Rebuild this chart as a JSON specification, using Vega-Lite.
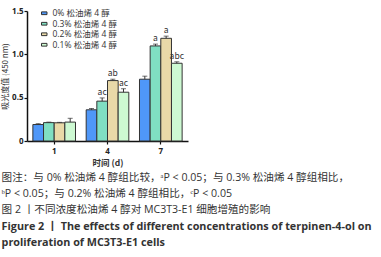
{
  "$schema": "https://vega.github.io/schema/vega-lite/v6.json",
  "width": 161,
  "height": 130,
  "padding": {"left": 1, "top": 7, "right": 5, "bottom": 4},
  "background": "white",
  "config": {
    "font": "Noto Sans CJK SC",
    "view": {"stroke": null},
    "axis": {"grid": false}
  },
  "title": {
    "text": [
      "图注：与 0% 松油烯 4 醇组比较，ᵃP < 0.05；与 0.3% 松油烯 4 醇组相比，",
      "ᵇP < 0.05；与 0.2% 松油烯 4 醇组相比，ᶜP < 0.05",
      "图 2 丨不同浓度松油烯 4 醇对 MC3T3-E1 细胞增殖的影响"
    ],
    "subtitle": [
      "Figure 2  丨  The effects of different concentrations of terpinen-4-ol on",
      "proliferation of MC3T3-E1 cells"
    ],
    "orient": "bottom",
    "anchor": "start",
    "frame": "bounds",
    "offset": 6,
    "font": "Open Sans, Noto Sans CJK SC",
    "fontSize": 10.6,
    "fontWeight": "normal",
    "color": "#333",
    "lineHeight": 16.3,
    "subtitleFont": "Open Sans, Noto Sans CJK SC",
    "subtitleFontSize": 10.8,
    "subtitleFontWeight": "bold",
    "subtitleColor": "#333",
    "subtitleLineHeight": 16.3,
    "subtitlePadding": 5
  },
  "data": {
    "values": [
      {"day": "1", "group": "0% 松油烯 4 醇", "value": 0.19, "hi": 0.20, "sig": ""},
      {"day": "1", "group": "0.3% 松油烯 4 醇", "value": 0.212, "hi": 0.218, "sig": ""},
      {"day": "1", "group": "0.2% 松油烯 4 醇", "value": 0.21, "hi": 0.215, "sig": ""},
      {"day": "1", "group": "0.1% 松油烯 4 醇", "value": 0.218, "hi": 0.262, "sig": ""},
      {"day": "4", "group": "0% 松油烯 4 醇", "value": 0.36, "hi": 0.375, "sig": ""},
      {"day": "4", "group": "0.3% 松油烯 4 醇", "value": 0.46, "hi": 0.497, "sig": "ac"},
      {"day": "4", "group": "0.2% 松油烯 4 醇", "value": 0.697, "hi": 0.713, "sig": "ab"},
      {"day": "4", "group": "0.1% 松油烯 4 醇", "value": 0.563, "hi": 0.603, "sig": "ac"},
      {"day": "7", "group": "0% 松油烯 4 醇", "value": 0.713, "hi": 0.748, "sig": ""},
      {"day": "7", "group": "0.3% 松油烯 4 醇", "value": 1.097, "hi": 1.118, "sig": "a"},
      {"day": "7", "group": "0.2% 松油烯 4 醇", "value": 1.185, "hi": 1.21, "sig": "a"},
      {"day": "7", "group": "0.1% 松油烯 4 醇", "value": 0.897, "hi": 0.914, "sig": "abc"}
    ]
  },
  "encoding": {
    "x": {
      "field": "day", "type": "nominal",
      "scale": {"paddingInner": 0.2, "paddingOuter": 0.11},
      "axis": {"title": "时间 (d)", "labelAngle": 0, "titleFontSize": 8.5, "titleFontWeight": "bold", "titleColor": "#333", "titlePadding": 3, "labelPadding": 3, "labelFont": "Open Sans", "labelFontWeight": "bold", "labelFontSize": 8, "labelColor": "#222", "domainColor": "#111", "domainWidth": 1.5, "tickColor": "#111", "tickWidth": 1.2, "tickSize": 3}
    },
    "xOffset": {"field": "group", "type": "nominal", "sort": ["0% 松油烯 4 醇", "0.3% 松油烯 4 醇", "0.2% 松油烯 4 醇", "0.1% 松油烯 4 醇"]}
  },
  "layer": [
    {
      "mark": {"type": "bar", "stroke": "#333", "strokeWidth": 1},
      "encoding": {
        "y": {
          "field": "value", "type": "quantitative",
          "scale": {"domain": [0, 1.5], "nice": false},
          "axis": {"title": "吸光度值 (450 nm)", "values": [0, 0.5, 1, 1.5], "format": ".1f", "labelExpr": "datum.value == 0 ? '0' : datum.label", "titleFontSize": 8, "titleFontWeight": "normal", "titleColor": "#333", "titlePadding": 2, "labelFont": "Open Sans", "labelFontWeight": "bold", "labelFontSize": 8, "labelColor": "#222", "labelOverlap": false, "labelBound": false, "labelFlush": false, "domainColor": "#111", "domainWidth": 1.5, "tickColor": "#111", "tickWidth": 1.2, "tickSize": 3, "labelPadding": 1}
        },
        "color": {
          "field": "group", "type": "nominal",
          "sort": ["0% 松油烯 4 醇", "0.3% 松油烯 4 醇", "0.2% 松油烯 4 醇", "0.1% 松油烯 4 醇"],
          "scale": {"range": ["#4f97f8", "#80dfc2", "#e9d9a8", "#cdf9d2"]},
          "legend": {
            "title": null, "orient": "none", "legendX": 13, "legendY": -2,
            "symbolType": "M-1,-0.5H1V0.5H-1Z", "symbolSize": 30, "symbolStrokeColor": "#333", "symbolStrokeWidth": 1,
            "labelFontSize": 8.5, "labelColor": "#333", "labelFont": "Open Sans, Noto Sans CJK SC", "rowPadding": 1.5, "labelOffset": 4
          }
        }
      }
    },
    {
      "mark": {"type": "rule", "color": "#333", "strokeWidth": 1},
      "encoding": {"y": {"field": "value", "type": "quantitative"}, "y2": {"field": "hi"}}
    },
    {
      "mark": {"type": "tick", "color": "#333", "size": 5, "thickness": 1, "orient": "horizontal"},
      "encoding": {"y": {"field": "hi", "type": "quantitative"}}
    },
    {
      "mark": {"type": "text", "fontSize": 8.5, "color": "#333", "baseline": "bottom", "dy": -1},
      "encoding": {"y": {"field": "hi", "type": "quantitative"}, "text": {"field": "sig"}}
    }
  ]
}
